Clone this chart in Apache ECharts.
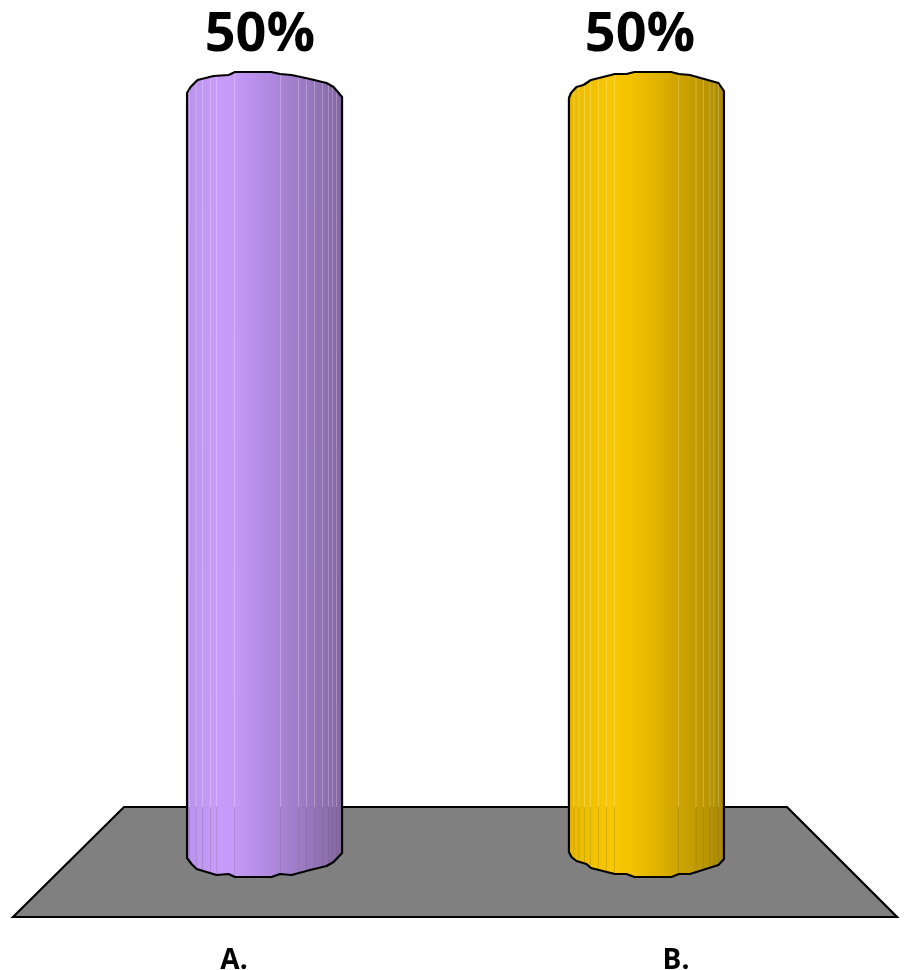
<!DOCTYPE html>
<html>
<head>
<meta charset="utf-8">
<style>html,body{margin:0;padding:0;background:#fff}#c{width:905px;height:970px}</style>
<script src="https://cdn.jsdelivr.net/npm/echarts@6/dist/echarts.min.js"></script>
</head>
<body>
<div id="c"></div>
<script>
const categories = ['A.', 'B.'];
const values = [50, 50];
const valueSuffix = '%';
const axisMin = 0;
const axisMax = 50;

/* Look of the cylinders, offsets relative to each bar's scaled position */
const DEPTH_SCALE = 0.864;
const LABEL_SCALE = 0.86;
const FLOOR_FRONT = 62, FLOOR_BACK = -48, FLOOR_INSET_L = 111, FLOOR_INSET_R = 110;
const LABEL_FONT = '"Open Sans", sans-serif';
const looks = [
  {
    topEdge: [[-77.5,8],[-74,2],[-67,-5],[-51,-9],[-36,-10],[-29.5,-13],[6.5,-13],[15.5,-11],[27,-10],[45.5,-6],[62,-2],[69,2],[77.5,12]],
    bottomEdge: [[-77.5,3],[-73,9],[-68,14],[-48,20],[-36,19],[-29.5,22],[7,22],[15.5,19],[27,20],[45.5,15],[62,11],[69,7],[77.5,-2]],
    seams: [-75,-68.5,-62,-54,-48,-30,16,34,42,50,58,64,68,72],
    shades: [[0,'#ba91ea'],[0.1,'#c297f3'],[0.2,'#c89bfb'],[0.3,'#c69af8'],[0.45,'#b88eea'],[0.6,'#aa85d6'],[0.8,'#9676bd'],[1,'#83659f']]
  },
  {
    topEdge: [[-77.5,13],[-75.5,8],[-70,2],[-63,0],[-55.5,-5],[-31.5,-11],[-20,-11],[-12,-13],[24.5,-13],[32.5,-11],[43.5,-10],[72,-2],[77.5,6]],
    bottomEdge: [[-77.5,-3],[-75,2],[-70,6],[-60,9],[-55.5,13],[-31.5,19],[-20,19],[-12,22],[25,22],[32.5,19],[43.5,19],[72,10],[77.5,4]],
    seams: [-72.5,-67.5,-62,-56,-48,-40,-32,32,49.5,57,63.5,67.5,72],
    shades: [[0,'#e6b700'],[0.1,'#efbf00'],[0.28,'#f9c800'],[0.4,'#f3c200'],[0.55,'#e2b400'],[0.7,'#cea500'],[0.85,'#be9800'],[1,'#ab8800']]
  }
];

function edgeAt(edge, dx) {
  for (let i = 0; i < edge.length - 1; i++) {
    const a = edge[i], b = edge[i + 1];
    if (dx >= a[0] && dx <= b[0]) return a[1] + (b[1] - a[1]) * (dx - a[0]) / (b[0] - a[0]);
  }
  return edge[0][1];
}

function renderFloor(params) {
  const g = params.coordSys;
  const front = g.y + g.height + FLOOR_FRONT, back = g.y + g.height + FLOOR_BACK;
  return {
    type: 'polygon',
    shape: { points: [[g.x, front], [g.x + FLOOR_INSET_L, back], [g.x + g.width - FLOOR_INSET_R, back], [g.x + g.width, front]] },
    style: { fill: '#808080', stroke: '#000', lineWidth: 2.2, lineJoin: 'miter' }
  };
}

function renderCylinder(params, api) {
  const g = params.coordSys;
  const mid = g.x + g.width / 2;
  const i = api.value(0);
  const topPt = api.coord([i, api.value(1)]);
  const basePt = api.coord([i, axisMin]);
  const cx = mid + 0.5 + (topPt[0] - mid) * DEPTH_SCALE;
  const labelX = mid - 5 + (topPt[0] - mid) * LABEL_SCALE;
  const look = looks[i];
  const back = g.y + g.height + FLOOR_BACK;
  const topPts = look.topEdge.map(p => [cx + p[0], topPt[1] + p[1]]);
  const bottomPts = look.bottomEdge.map(p => [cx + p[0], basePt[1] + p[1]]).reverse();
  const children = [{
    type: 'polygon',
    shape: { points: topPts.concat(bottomPts) },
    style: {
      fill: new echarts.graphic.LinearGradient(0, 0, 1, 0, look.shades.map(s => ({ offset: s[0], color: s[1] }))),
      stroke: '#000', lineWidth: 2.2, lineJoin: 'round'
    }
  }];
  look.seams.forEach(dx => {
    const x = cx + dx;
    const y0 = topPt[1] + edgeAt(look.topEdge, dx) + 1;
    const y1 = basePt[1] + edgeAt(look.bottomEdge, dx) - 1;
    children.push({ type: 'line', shape: { x1: x, y1: y0, x2: x, y2: back }, style: { stroke: 'rgba(255,255,255,0.26)', lineWidth: 1 } });
    children.push({ type: 'line', shape: { x1: x, y1: back, x2: x, y2: y1 }, style: { stroke: 'rgba(90,90,90,0.22)', lineWidth: 1 } });
  });
  children.push({
    type: 'text',
    style: {
      text: api.value(1) + valueSuffix, x: labelX, y: topPt[1] - 49,
      align: 'center', verticalAlign: 'middle', fill: '#000',
      font: 'bold 54px ' + LABEL_FONT
    }
  });
  return { type: 'group', children };
}

const chart = echarts.init(document.getElementById('c'), null, { renderer: 'canvas' });
chart.setOption({
  animation: false,
  backgroundColor: '#fff',
  grid: { left: 13, right: 8, top: 85, bottom: 115, outerBoundsMode: 'none' },
  xAxis: {
    type: 'category', data: categories,
    axisLine: { show: false }, axisTick: { show: false }, splitLine: { show: false },
    axisLabel: { margin: 92, color: '#000', fontFamily: LABEL_FONT, fontWeight: 'bold', fontSize: 28 }
  },
  yAxis: { type: 'value', min: axisMin, max: axisMax, show: false },
  series: [
    { type: 'custom', coordinateSystem: 'cartesian2d', silent: true, clip: false, data: [[0, axisMin]], encode: { x: 0, y: 1 }, renderItem: renderFloor, z: 1 },
    { type: 'custom', coordinateSystem: 'cartesian2d', silent: true, clip: false, data: categories.map((c, i) => [i, values[i]]), encode: { x: 0, y: 1 }, renderItem: renderCylinder, z: 2 }
  ]
});
</script>
</body>
</html>
